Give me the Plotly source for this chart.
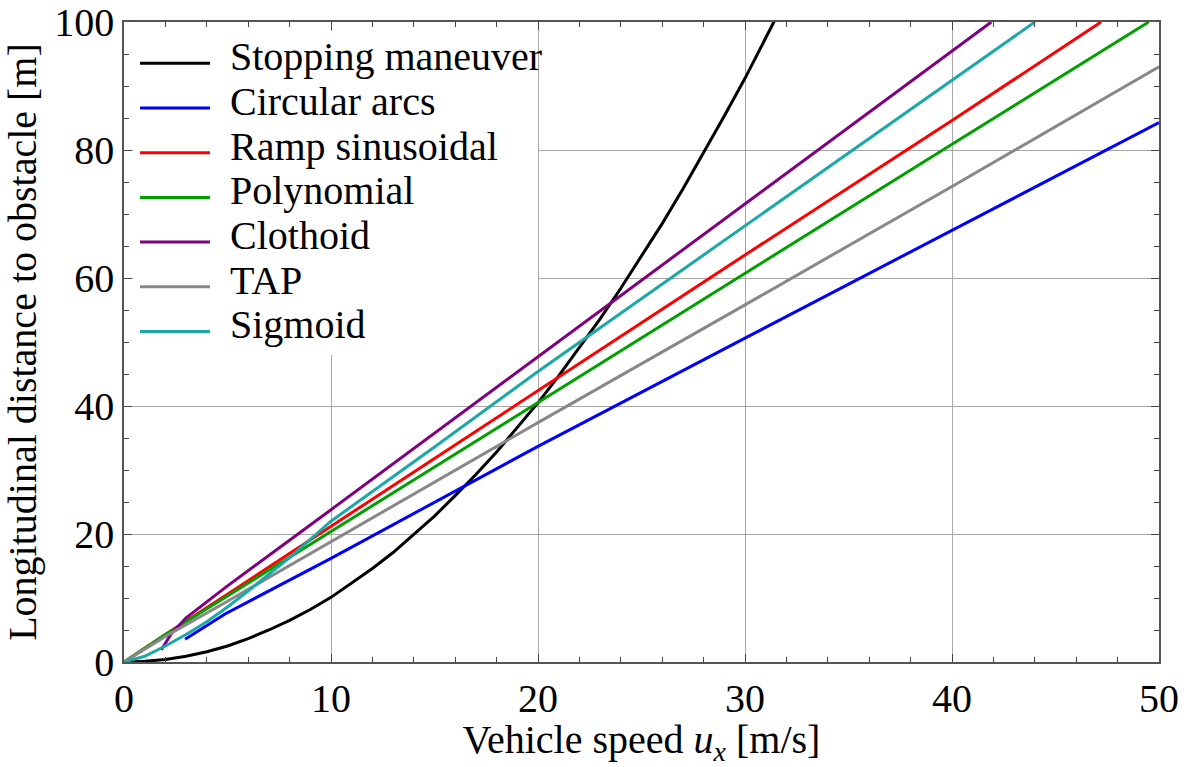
import plotly.graph_objects as go

# ---- data ----
stop_x = [0, 1, 2, 3, 4, 5, 6, 7, 8, 9, 10, 11, 12, 13, 14, 15, 16, 17, 18, 19, 20,
          21, 22, 23, 24, 25, 26, 27, 28, 29, 30, 31, 31.6]
stop_y = [0, 0.1, 0.4, 0.9, 1.6, 2.5, 3.65, 5.0, 6.5, 8.2, 10.1, 12.3, 14.6, 17.1, 19.9,
          22.8, 26.0, 29.3, 32.8, 36.6, 40.5, 44.7, 49.1, 53.6, 58.4, 63.4, 68.5, 73.9,
          79.5, 85.3, 91.2, 97.4, 101.3]

arc_x = [2.95, 4.88, 10, 20, 30, 40, 50]
arc_y = [3.55, 7.5, 16.2, 33.7, 50.6, 67.45, 84.3]

ramp_x = [0, 2, 5, 10, 20, 30, 40, 47.2]
ramp_y = [0, 4.3, 10.6, 21.2, 42.45, 63.6, 84.6, 100]

poly_x = [0, 2, 5, 10, 20, 30, 40, 49.5]
poly_y = [0, 4.3, 10.3, 20.4, 40.6, 60.7, 80.9, 100]

clo_x = [1.8, 2.0, 2.3, 3, 5, 10, 20, 30, 40, 41.9]
clo_y = [1.9, 2.9, 4.5, 6.9, 11.9, 23.8, 47.7, 71.6, 95.5, 100]

tap_x = [0, 2, 5, 10, 20, 30, 40, 50]
tap_y = [0, 4.0, 9.5, 18.8, 37.4, 55.8, 74.3, 93.0]

sig_x = [0, 1, 2, 3, 4, 5, 6, 8, 10, 15, 20, 30, 40, 44]
sig_y = [0, 0.9, 2.5, 4.3, 6.3, 8.6, 11.1, 16.3, 22.0, 33.6, 45.4, 68.2, 91.0, 100]

names = ["Stopping maneuver", "Circular arcs", "Ramp sinusoidal", "Polynomial",
         "Clothoid", "TAP", "Sigmoid"]
colors = ["#000000", "#0000ff", "#ff0000", "#00a000", "#800080", "#888888", "#1aa8a8"]
xs_all = [stop_x, arc_x, ramp_x, poly_x, clo_x, tap_x, sig_x]
ys_all = [stop_y, arc_y, ramp_y, poly_y, clo_y, tap_y, sig_y]

FONT = "Liberation Serif"

# plot area in pixels (used for legend placement only)
W, H = 1188, 767
L, R, T, B = 124, 29, 22, 105
PW, PH = W - L - R, H - T - B


def px_to_paper(px, py):
    return (px - L) / PW, (H - B - py) / PH


fig = go.Figure()
for name, xs, ys, col in zip(names, xs_all, ys_all, colors):
    fig.add_trace(go.Scatter(x=xs, y=ys, mode="lines", name=name, showlegend=False,
                             line=dict(color=col, width=3)))

axis_common = dict(
    showline=True, linecolor="#555555", linewidth=1.5, mirror="allticks",
    ticks="inside", ticklen=8, tickcolor="#444444", tickwidth=1,
    showgrid=True, gridcolor="#a8a8a8", gridwidth=1, zeroline=False,
    automargin=False,
    tickfont=dict(family=FONT, size=40, color="black"),
)

fig.update_xaxes(range=[0, 50], dtick=10, tick0=0,
                 minor=dict(dtick=2, ticks="inside", ticklen=5, tickcolor="#444444", showgrid=False),
                 title=dict(text="Vehicle speed <i>u</i><sub><i>x</i></sub> [m/s]",
                            font=dict(family=FONT, size=40, color="black"), standoff=2),
                 **axis_common)
fig.update_yaxes(range=[0, 100], dtick=20, tick0=0,
                 minor=dict(dtick=5, ticks="inside", ticklen=5, tickcolor="#444444", showgrid=False),
                 title=dict(text="Longitudinal distance to obstacle [m]",
                            font=dict(family=FONT, size=40, color="black"), standoff=6),
                 **axis_common)

# legend box (white, hides grid lines beneath it); no data passes through this area
bx0, by0 = px_to_paper(133, 355)
bx1, by1 = px_to_paper(538, 31)
fig.add_shape(type="rect", xref="paper", yref="paper", x0=bx0, y0=by0, x1=bx1, y1=by1,
              fillcolor="white", line=dict(width=0), layer="above")

# legend entries
for i, (name, col) in enumerate(zip(names, colors)):
    line_py = 63.3 + 44.7 * i
    text_py = 56.7 + 44.7 * i
    lx0, ly = px_to_paper(140, line_py)
    lx1, _ = px_to_paper(210, line_py)
    fig.add_shape(type="line", xref="paper", yref="paper", x0=lx0, x1=lx1, y0=ly, y1=ly,
                  line=dict(color=col, width=3), layer="above")
    tx, ty = px_to_paper(228, text_py)
    fig.add_annotation(text=name, xref="paper", yref="paper", x=tx, y=ty,
                       xanchor="left", yanchor="middle", showarrow=False,
                       font=dict(family=FONT, size=40, color="black"))

fig.update_layout(
    width=W, height=H,
    margin=dict(l=L, r=R, t=T, b=B, autoexpand=False),
    paper_bgcolor="white", plot_bgcolor="white",
    showlegend=False,
)

fig.write_html("out.html")
